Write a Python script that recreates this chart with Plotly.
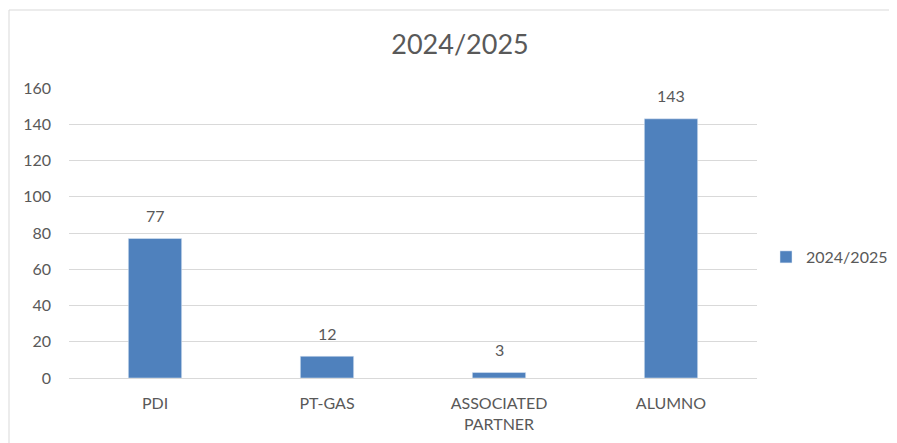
import plotly.graph_objects as go

categories = ["PDI", "PT-GAS", "ASSOCIATED<br>PARTNER", "ALUMNO"]
values = [77, 12, 3, 143]
series_name = "2024/2025"
y_ticks = [0, 20, 40, 60, 80, 100, 120, 140, 160]

BAR_COLOR = "#4F81BD"
TEXT_COLOR = "#595959"
GRID_COLOR = "#D9D9D9"
FONT = "Lato"

W, H = 897, 443
OFF = 8  # page body margin shifts the figure
# plot area in screen pixels
PX0, PX1, PY0, PY1 = 69, 757, 88, 378
plot_w = PX1 - PX0
plot_h = PY1 - PY0
L = PX0 - OFF
T = PY0 - OFF
R = W - L - plot_w
B = H - T - plot_h

fig = go.Figure()
fig.add_trace(go.Bar(
    x=categories,
    y=values,
    name=series_name,
    marker=dict(color=BAR_COLOR),
    cliponaxis=False,
    showlegend=True,
))

# data labels above the bars
for cat, val in zip(categories, values):
    fig.add_annotation(
        x=cat, y=val, text=str(val),
        showarrow=False, yanchor="middle", yshift=23,
        font=dict(size=16, family=FONT, color=TEXT_COLOR),
    )

# chart area border
fig.add_shape(
    type="rect", xref="paper", yref="paper",
    x0=(9 - PX0) / plot_w, x1=(W + 20 - PX0) / plot_w,
    y0=-(H + 20 - PY1) / plot_h, y1=1 + (PY0 - 10) / plot_h,
    line=dict(color="#D9D9D9", width=1),
    fillcolor="rgba(0,0,0,0)",
    layer="below",
)

fig.update_layout(
    width=W,
    height=H,
    margin=dict(l=L, r=R, t=T, b=B, autoexpand=False),
    paper_bgcolor="white",
    plot_bgcolor="white",
    font=dict(family=FONT, color=TEXT_COLOR, size=16),
    title=dict(
        text="2024/2025",
        font=dict(family=FONT, size=27, color=TEXT_COLOR),
        x=(460 - OFF) / W, xanchor="center",
        y=1 - (45 - OFF) / H, yanchor="middle",
    ),
    bargap=0.69,
    showlegend=True,
    legend=dict(
        xref="container", yref="container",
        x=(766 - OFF) / W, xanchor="left",
        y=1 - (257 - OFF) / H, yanchor="middle",
        font=dict(size=16, family=FONT, color=TEXT_COLOR),
        bgcolor="rgba(0,0,0,0)",
        itemwidth=30,
    ),
    xaxis=dict(
        showgrid=False,
        showline=False,
        ticks="",
        ticklabelstandoff=14,
        tickfont=dict(size=16, family=FONT, color=TEXT_COLOR),
    ),
    yaxis=dict(
        range=[0, 160],
        tickvals=y_ticks,
        showgrid=True,
        gridcolor=GRID_COLOR,
        gridwidth=1,
        zeroline=True,
        zerolinecolor=GRID_COLOR,
        zerolinewidth=1,
        showline=False,
        ticks="",
        ticklabelstandoff=17,
        tickfont=dict(size=16, family=FONT, color=TEXT_COLOR),
    ),
)

fig.write_html("out.html")
